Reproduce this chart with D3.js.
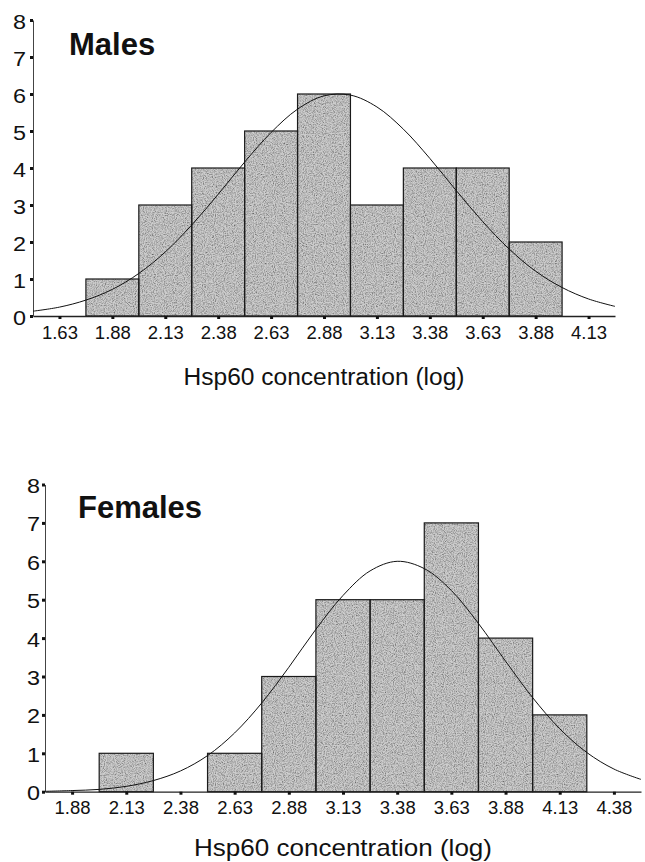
<!DOCTYPE html>
<html>
<head>
<meta charset="utf-8">
<script src="https://cdn.jsdelivr.net/npm/d3@7"></script>
<style>
  body { margin: 0; background: #fff; }
  text { font-family: "Liberation Sans", Arial, sans-serif; fill: #111; }
</style>
</head>
<body>
<script>
// histogram bins (bin centres, width 0.25) and counts
var binWidth = 0.25;
var maleBins = [1.88, 2.13, 2.38, 2.63, 2.88, 3.13, 3.38, 3.63, 3.88];
var maleCounts = [1, 3, 4, 5, 6, 3, 4, 4, 2];
var femaleBins = [2.13, 2.38, 2.63, 2.88, 3.13, 3.38, 3.63, 3.88, 4.13];
var femaleCounts = [1, 0, 1, 3, 5, 5, 7, 4, 2];

// x tick labels
var maleTicks = [1.63, 1.88, 2.13, 2.38, 2.63, 2.88, 3.13, 3.38, 3.63, 3.88, 4.13];
var femaleTicks = [1.88, 2.13, 2.38, 2.63, 2.88, 3.13, 3.38, 3.63, 3.88, 4.13, 4.38];
var yTicks = [0, 1, 2, 3, 4, 5, 6, 7, 8];

// normal curve
var maleCurveX = [1.505, 1.63, 1.755, 1.88, 2.005, 2.13, 2.255, 2.38, 2.505, 2.63, 2.755, 2.88,
                  3.005, 3.13, 3.255, 3.38, 3.505, 3.63, 3.755, 3.88, 4.005, 4.13, 4.255];
var maleCurveY = [0.13, 0.24, 0.43, 0.72, 1.15, 1.73, 2.46, 3.29, 4.16, 4.96, 5.59, 5.95,
                  5.97, 5.65, 5.05, 4.26, 3.39, 2.55, 1.81, 1.21, 0.77, 0.46, 0.26];
var femaleCurveX = [1.755, 1.88, 2.005, 2.13, 2.255, 2.38, 2.505, 2.63, 2.755, 2.88, 3.005, 3.13,
                    3.255, 3.38, 3.505, 3.63, 3.755, 3.88, 4.005, 4.13, 4.255, 4.38, 4.505];
var femaleCurveY = [0.01, 0.03, 0.06, 0.14, 0.29, 0.54, 0.94, 1.53, 2.31, 3.24, 4.23, 5.11,
                    5.75, 6.0, 5.81, 5.24, 4.38, 3.40, 2.45, 1.64, 1.02, 0.59, 0.32];

var svg = d3.select("body").append("svg")
    .attr("width", 645)
    .attr("height", 862);

// grainy halftone look for the bars
var defs = svg.append("defs");
var grain = defs.append("filter").attr("id", "grain");
grain.append("feTurbulence")
    .attr("type", "fractalNoise").attr("baseFrequency", 0.9)
    .attr("numOctaves", 2).attr("seed", 4).attr("result", "noise");
grain.append("feColorMatrix")
    .attr("in", "noise").attr("type", "matrix")
    .attr("values", "0 0 0 0 0  0 0 0 0 0  0 0 0 0 0  1.5 0 0 0 -0.55")
    .attr("result", "dark");
grain.append("feComposite")
    .attr("in", "dark").attr("in2", "SourceGraphic")
    .attr("operator", "in").attr("result", "speck");
var merge = grain.append("feMerge");
merge.append("feMergeNode").attr("in", "SourceGraphic");
merge.append("feMergeNode").attr("in", "speck");

function drawPanel(opt) {
  var x = d3.scaleLinear()
      .domain([opt.ticks[0] - binWidth / 2, opt.ticks[opt.ticks.length - 1] + binWidth / 2])
      .range(opt.xRange);
  var y = d3.scaleLinear()
      .domain([0, 8])
      .range(opt.yRange);

  var g = svg.append("g");

  var bars = opt.bins.map(function(b, i) { return {x: b, n: opt.counts[i]}; })
      .filter(function(d) { return d.n > 0; });

  // bar fills
  g.append("g")
      .attr("filter", "url(#grain)")
    .selectAll("rect")
    .data(bars).enter()
    .append("rect")
      .attr("x", function(d) { return x(d.x - binWidth / 2); })
      .attr("width", function(d) { return x(d.x + binWidth / 2) - x(d.x - binWidth / 2); })
      .attr("y", function(d) { return y(d.n); })
      .attr("height", function(d) { return y(0) - y(d.n); })
      .style("fill", "#cdcdcd");

  // bar outlines
  g.append("g")
    .selectAll("rect")
    .data(bars).enter()
    .append("rect")
      .attr("x", function(d) { return x(d.x - binWidth / 2); })
      .attr("width", function(d) { return x(d.x + binWidth / 2) - x(d.x - binWidth / 2); })
      .attr("y", function(d) { return y(d.n); })
      .attr("height", function(d) { return y(0) - y(d.n); })
      .style("fill", "none")
      .style("stroke", "#1a1a1a")
      .style("stroke-width", 1.2);

  // x axis
  var xa = g.append("g")
      .attr("transform", "translate(0," + y(0) + ")")
      .call(d3.axisBottom(x).tickValues(opt.ticks).tickFormat(d3.format(".2f"))
            .tickSize(3).tickPadding(7).tickSizeOuter(0));
  xa.select(".domain").style("stroke", "#222").style("stroke-width", 1.3);
  xa.selectAll(".tick line").style("stroke", "#111").style("stroke-width", 3);
  xa.selectAll(".tick text")
      .attr("textLength", 36)
      .attr("lengthAdjust", "spacingAndGlyphs")
      .style("font-family", "'Liberation Sans', Arial, sans-serif")
      .style("font-size", "18px")
      .style("fill", "#111");

  // y axis
  var ya = g.append("g")
      .attr("transform", "translate(" + opt.xRange[0] + ",0)")
      .call(d3.axisLeft(y).tickValues(yTicks).tickFormat(d3.format("d"))
            .tickSize(3).tickPadding(opt.yPad).tickSizeOuter(0));
  ya.select(".domain").style("stroke", "#444").style("stroke-width", 1);
  ya.selectAll(".tick line").style("stroke", "#111").style("stroke-width", 3);
  ya.selectAll(".tick text")
      .attr("dy", "0.4em")
      .attr("textLength", 13)
      .attr("lengthAdjust", "spacingAndGlyphs")
      .style("font-family", "'Liberation Sans', Arial, sans-serif")
      .style("font-size", "20px")
      .style("fill", "#111");

  // fitted curve
  var line = d3.line()
      .x(function(d, i) { return x(opt.curveX[i]); })
      .y(function(d) { return y(d); })
      .curve(d3.curveCatmullRom);
  g.append("path")
      .datum(opt.curveY)
      .attr("d", line)
      .style("fill", "none")
      .style("stroke", "#111")
      .style("stroke-width", 1);

  // panel title
  g.append("text")
      .attr("x", opt.titleX)
      .attr("y", opt.titleY)
      .style("font-size", "31px")
      .style("font-weight", "bold")
      .text(opt.title);

  // axis label
  g.append("text")
      .attr("x", (opt.xRange[0] + opt.xRange[1]) / 2)
      .attr("y", opt.labelY)
      .attr("text-anchor", "middle")
      .attr("textLength", opt.labelLen)
      .attr("lengthAdjust", "spacingAndGlyphs")
      .style("font-size", opt.labelSize)
      .text("Hsp60 concentration (log)");
}

drawPanel({
  bins: maleBins, counts: maleCounts, ticks: maleTicks,
  curveX: maleCurveX, curveY: maleCurveY,
  xRange: [33, 615], yRange: [316, 20], yPad: 4,
  title: "Males", titleX: 69, titleY: 55,
  labelY: 385, labelLen: 281, labelSize: "23px"
});

drawPanel({
  bins: femaleBins, counts: femaleCounts, ticks: femaleTicks,
  curveX: femaleCurveX, curveY: femaleCurveY,
  xRange: [45, 641], yRange: [791.7, 484.5], yPad: 2,
  title: "Females", titleX: 78, titleY: 518,
  labelY: 856, labelLen: 298, labelSize: "24px"
});
</script>
</body>
</html>
